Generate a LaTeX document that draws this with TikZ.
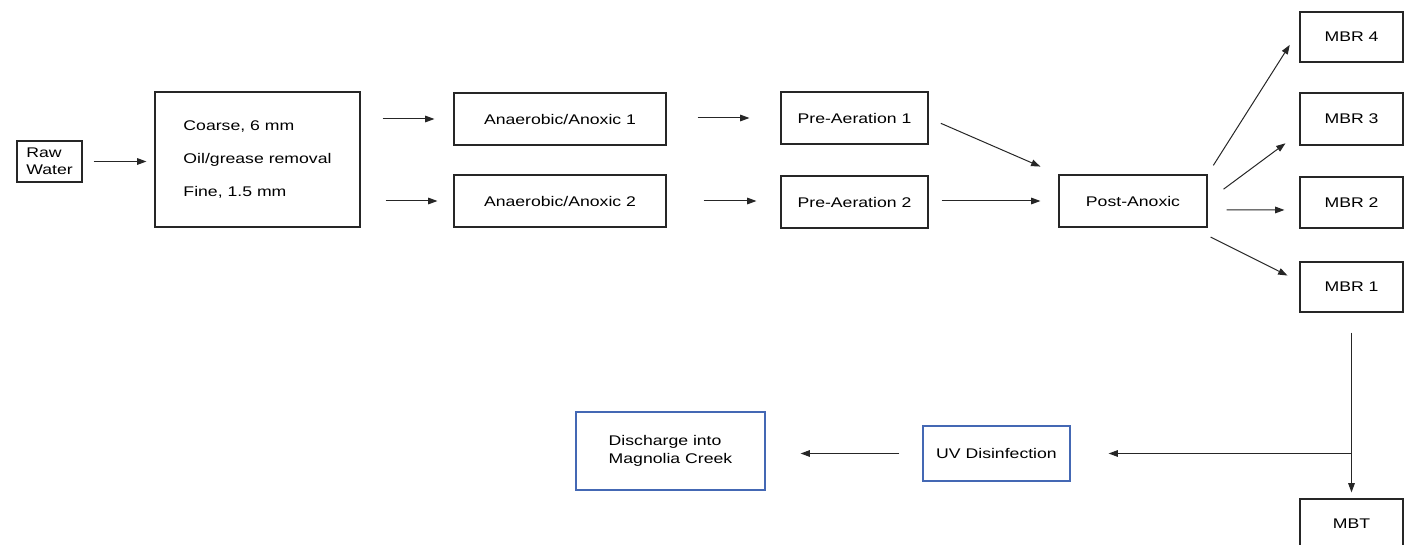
\documentclass[tikz,border=0pt]{standalone}
\usepackage{fontspec}
\setmainfont{Liberation Sans}[FakeStretch=1.26]
\usetikzlibrary{arrows.meta}

\definecolor{boxblue}{RGB}{68,104,180}

\tikzset{
  stage/.style={rectangle, draw=black!85, line width=0.9pt},
  bluestage/.style={rectangle, draw=boxblue, line width=0.9pt},
  flow/.style={-{Triangle[length=7pt,width=5pt]}, line width=0.75pt, color=black!85}
}

\begin{document}
\begin{tikzpicture}[x=0.75pt, y=-0.75pt, every node/.style={font=\fontsize{10.5pt}{13pt}\selectfont}]

	\useasboundingbox (0,0) rectangle (1412,545);

	\node[stage, minimum width=48.75pt, minimum height=30.75pt, align=left](rawWater) at (49.5,161.5){Raw\\Water};
	\node[stage, minimum width=153.75pt, minimum height=101.25pt, align=left, font=\fontsize{10.5pt}{24.75pt}\selectfont](screenBox) at (257.5,159.5){Coarse, 6 mm\\Oil/grease removal\\Fine, 1.5 mm};

	\node[stage, minimum width=159pt, minimum height=39pt](anoxicOne) at (560,119){Anaerobic/Anoxic 1};
	\node[stage, minimum width=159pt, minimum height=39pt](anoxicTwo) at (560,201){Anaerobic/Anoxic 2};
	\node[stage, minimum width=110.25pt, minimum height=39pt](preAerOne) at (854.5,118){Pre-Aeration 1};
	\node[stage, minimum width=110.25pt, minimum height=39pt](preAerTwo) at (854.5,202){Pre-Aeration 2};
	\node[stage, minimum width=111pt, minimum height=39pt](postAnoxic) at (1133,201){Post-Anoxic};

	\node[stage, minimum width=77.25pt, minimum height=37.5pt](mbrFour) at (1351.5,37){MBR 4};
	\node[stage, minimum width=77.25pt, minimum height=39pt](mbrThree) at (1351.5,119){MBR 3};
	\node[stage, minimum width=77.25pt, minimum height=38.25pt](mbrTwo) at (1351.5,202.5){MBR 2};
	\node[stage, minimum width=77.25pt, minimum height=37.5pt](mbrOne) at (1351.5,287){MBR 1};
	\node[stage, minimum width=77.25pt, minimum height=37.5pt](mbt) at (1351.5,524){MBT};

	\node[bluestage, minimum width=110.25pt, minimum height=41.25pt](uvBox) at (996.5,453.5){UV Disinfection};
	\node[bluestage, minimum width=141.75pt, minimum height=58.5pt, align=left](discharge) at (670.5,451){Discharge into\\Magnolia Creek};

	\coordinate (tee) at (mbrOne.south |- uvBox.east);

	\draw [flow, shorten <=8.25pt, shorten >=6pt] (rawWater.east) -- (screenBox.west |- rawWater.east);
	\draw [flow, shorten <=16.5pt, shorten >=14.25pt] (screenBox.east |- anoxicOne.west) -- (anoxicOne.west);
	\draw [flow, shorten <=18.75pt, shorten >=12pt] (screenBox.east |- anoxicTwo.west) -- (anoxicTwo.west);
	\draw [flow, shorten <=23.25pt, shorten >=23.25pt] (anoxicOne.east |- preAerOne.west) -- (preAerOne.west);
	\draw [flow, shorten <=27.75pt, shorten >=18pt] (anoxicTwo.east) -- (preAerTwo.west |- anoxicTwo.east);

	\draw [flow, shorten <=10pt, shorten >=14.7pt] (preAerOne.east) -- (postAnoxic.north west);
	\draw [flow, shorten <=9.75pt, shorten >=13.5pt] (preAerTwo.east |- postAnoxic.west) -- (postAnoxic.west);

	\draw [flow, shorten <=8pt, shorten >=13.5pt] (postAnoxic.north east) -- (mbrFour.172);
	\draw [flow, shorten <=14.9pt, shorten >=13pt] (postAnoxic.east) -- (mbrThree.195);
	\draw [flow, shorten <=14.25pt, shorten >=11.25pt] ([yshift=-6.75pt]postAnoxic.east) -- ([yshift=-5.6pt]mbrTwo.west);
	\draw [flow, shorten <=2.5pt, shorten >=10pt] ([yshift=-6pt]postAnoxic.south east) -- (mbrOne.174);

	\draw [flow, shorten <=15pt, shorten >=4.5pt] (mbrOne.south) -- (mbt.north);
	\draw [flow, shorten >=28.5pt] (tee) -- (uvBox.east);
	\draw [flow, shorten <=17.25pt, shorten >=26.25pt] (uvBox.west) -- (discharge.east |- uvBox.west);

\end{tikzpicture}
\end{document}
